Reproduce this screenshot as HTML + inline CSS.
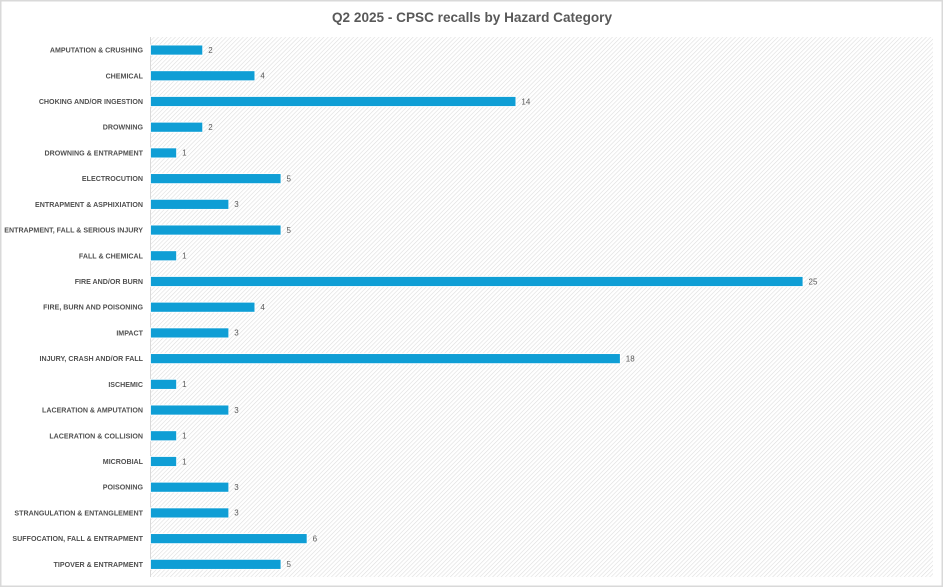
<!DOCTYPE html>
<html><head><meta charset="utf-8"><style>
html,body{margin:0;padding:0;background:#fff;}
svg{display:block;}
text{font-family:"Liberation Sans",Arial,sans-serif;}
</style></head><body>
<svg width="944" height="588" viewBox="0 0 944 588" xmlns="http://www.w3.org/2000/svg">
<defs>
<pattern id="h" width="3" height="3" patternUnits="userSpaceOnUse" patternTransform="rotate(45)">
<rect width="3" height="3" fill="#ffffff"/>
<line x1="0" y1="0" x2="0" y2="3" stroke="#dedede" stroke-width="1.2"/>
</pattern>
</defs>
<rect x="0" y="0" width="944" height="588" fill="#fff"/>
<rect x="0.75" y="0.75" width="941.5" height="585.5" fill="none" stroke="#d9d9d9" stroke-width="1.5"/>
<text x="472" y="22" text-anchor="middle" font-size="14" font-weight="bold" fill="#595959" textLength="280" lengthAdjust="spacingAndGlyphs">Q2 2025 - CPSC recalls by Hazard Category</text>
<rect x="150" y="37" width="783" height="540" fill="url(#h)"/>
<line x1="150.5" y1="37" x2="150.5" y2="577" stroke="#d9d9d9" stroke-width="1"/>
<g id="bars" fill="#0F9ED5" stroke="#ffffff" stroke-width="0.8"></g>
<g id="labs" font-size="7.1" font-weight="bold" fill="#505050" text-anchor="end"></g>
<g id="vals" font-size="8" fill="#595959"></g>
</svg>
<script>
var d=[["AMPUTATION & CRUSHING",2],["CHEMICAL",4],["CHOKING AND/OR INGESTION",14],["DROWNING",2],["DROWNING & ENTRAPMENT",1],["ELECTROCUTION",5],["ENTRAPMENT & ASPHIXIATION",3],["ENTRAPMENT, FALL & SERIOUS INJURY",5],["FALL & CHEMICAL",1],["FIRE AND/OR BURN",25],["FIRE, BURN AND POISONING",4],["IMPACT",3],["INJURY, CRASH AND/OR FALL",18],["ISCHEMIC",1],["LACERATION & AMPUTATION",3],["LACERATION & COLLISION",1],["MICROBIAL",1],["POISONING",3],["STRANGULATION & ENTANGLEMENT",3],["SUFFOCATION, FALL & ENTRAPMENT",6],["TIPOVER & ENTRAPMENT",5]];
var NS="http://www.w3.org/2000/svg";
var bars=document.getElementById("bars"),labs=document.getElementById("labs"),vals=document.getElementById("vals");
var step=540/21,u=783/30;
d.forEach(function(r,i){
var cy=37+step*(i+0.5);
var w=r[1]*u;
var b=document.createElementNS(NS,"rect");
b.setAttribute("x",150.5);b.setAttribute("y",cy-4.8);b.setAttribute("width",w);b.setAttribute("height",10);
bars.appendChild(b);
var t=document.createElementNS(NS,"text");
t.setAttribute("x",143);t.setAttribute("y",cy+2.7);t.textContent=r[0];labs.appendChild(t);
var v=document.createElementNS(NS,"text");
v.setAttribute("x",150+w+6);v.setAttribute("y",cy+3);v.textContent=r[1];vals.appendChild(v);
});
</script>
</body></html>
